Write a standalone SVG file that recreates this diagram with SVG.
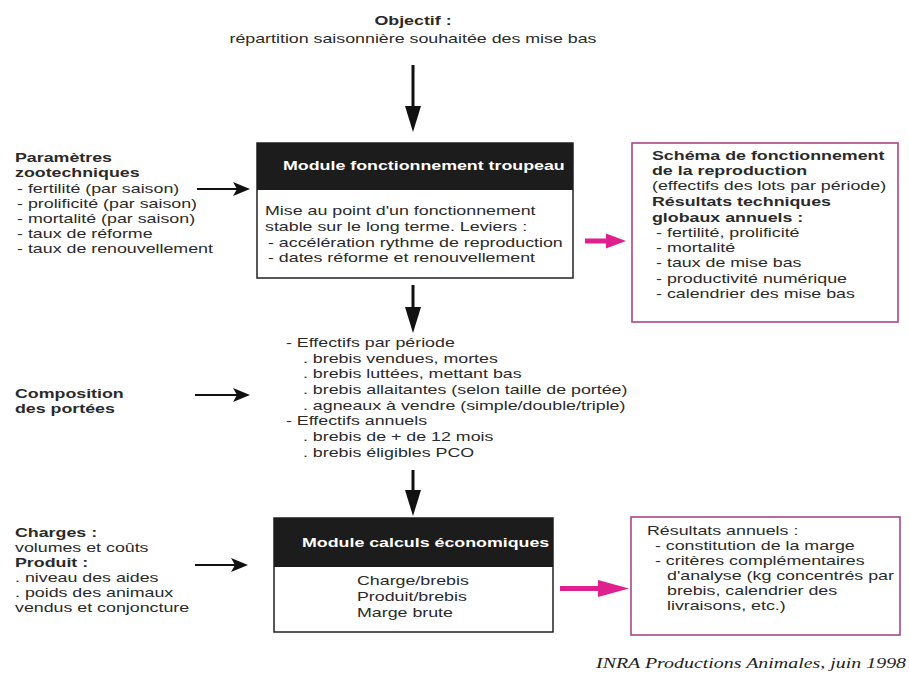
<svg xmlns="http://www.w3.org/2000/svg" width="909" height="675" viewBox="0 0 909 675">
<style>
.t{font-family:"Liberation Sans",Arial,sans-serif;font-size:13px;fill:#2a2a2a}
.b{font-weight:bold}
.w{fill:#ffffff;font-weight:bold}
.f{font-family:"Liberation Serif","Times New Roman",serif;font-size:15px;font-style:italic;fill:#222}
.box{fill:#fff;stroke:#222;stroke-width:1.5}
.hdr{fill:#1c1c1c}
.pbox{fill:#fff;stroke:#a8478a;stroke-width:1.6}
.sh{stroke:#111;stroke-width:3}
.th{stroke:#111;stroke-width:2}
.ah{fill:#111}
.pk{fill:#e0208f}
</style>
<rect width="909" height="675" fill="#fff"/>

<g id="objectif">
<text class="t" transform="translate(413,0) scale(1.37,1)" text-anchor="middle"><tspan class="b" x="0" y="25">Objectif :</tspan><tspan x="0" y="43">répartition saisonnière souhaitée des mise bas</tspan></text>
</g>

<g id="parametres">
<text class="t" transform="translate(15,0) scale(1.37,1)">
<tspan class="b" x="0" y="162">Paramètres</tspan>
<tspan class="b" x="0" y="177">zootechniques</tspan>
<tspan x="1.5" y="193">- fertilité (par saison)</tspan>
<tspan x="1.5" y="208">- prolificité (par saison)</tspan>
<tspan x="1.5" y="223">- mortalité (par saison)</tspan>
<tspan x="1.5" y="238">- taux de réforme</tspan>
<tspan x="1.5" y="253">- taux de renouvellement</tspan>
</text>
</g>

<g id="module-troupeau">
<rect class="box" x="257" y="143" width="316" height="135"/>
<rect class="hdr" x="257" y="143" width="316" height="47"/>
<text class="t w" transform="translate(283,0) scale(1.37,1)"><tspan x="0" y="170">Module fonctionnement troupeau</tspan></text>
<text class="t" transform="translate(265,0) scale(1.37,1)">
<tspan x="0" y="215">Mise au point d'un fonctionnement</tspan>
<tspan x="0" y="231">stable sur le long terme. Leviers :</tspan>
<tspan x="2.2" y="247">- accélération rythme de reproduction</tspan>
<tspan x="2.2" y="262">- dates réforme et renouvellement</tspan>
</text>
</g>

<g id="resultats-techniques">
<rect class="pbox" x="632" y="143" width="266" height="179"/>
<text class="t" transform="translate(652,0) scale(1.37,1)">
<tspan class="b" x="0" y="160">Schéma de fonctionnement</tspan>
<tspan class="b" x="0" y="175">de la reproduction</tspan>
<tspan x="0" y="190">(effectifs des lots par période)</tspan>
<tspan class="b" x="0" y="206">Résultats techniques</tspan>
<tspan class="b" x="0" y="222">globaux annuels :</tspan>
<tspan x="3" y="237">- fertilité, prolificité</tspan>
<tspan x="3" y="252">- mortalité</tspan>
<tspan x="3" y="267">- taux de mise bas</tspan>
<tspan x="3" y="283">- productivité numérique</tspan>
<tspan x="3" y="298">- calendrier des mise bas</tspan>
</text>
</g>

<g id="composition">
<text class="t b" transform="translate(15,0) scale(1.37,1)"><tspan x="0" y="398">Composition</tspan><tspan x="0" y="413">des portées</tspan></text>
</g>

<g id="effectifs">
<text class="t" transform="translate(286,0) scale(1.37,1)">
<tspan x="0" y="347">- Effectifs par période</tspan>
<tspan x="12.4" y="363">. brebis vendues, mortes</tspan>
<tspan x="12.4" y="378">. brebis luttées, mettant bas</tspan>
<tspan x="12.4" y="394">. brebis allaitantes (selon taille de portée)</tspan>
<tspan x="12.4" y="410">. agneaux à vendre (simple/double/triple)</tspan>
<tspan x="0" y="425">- Effectifs annuels</tspan>
<tspan x="12.4" y="441">. brebis de  + de 12 mois</tspan>
<tspan x="12.4" y="457">. brebis éligibles  PCO</tspan>
</text>
</g>

<g id="charges">
<text class="t" transform="translate(15,0) scale(1.37,1)">
<tspan class="b" x="0" y="537">Charges :</tspan>
<tspan x="0" y="552">volumes et coûts</tspan>
<tspan class="b" x="0" y="567">Produit :</tspan>
<tspan x="0" y="582">. niveau des aides</tspan>
<tspan x="0" y="597">. poids des animaux</tspan>
<tspan x="0" y="612">vendus et conjoncture</tspan>
</text>
</g>

<g id="module-economique">
<rect class="box" x="274" y="518" width="279" height="114"/>
<rect class="hdr" x="274" y="518" width="279" height="49"/>
<text class="t w" transform="translate(302,0) scale(1.37,1)"><tspan x="0" y="547">Module calculs économiques</tspan></text>
<text class="t" transform="translate(357,0) scale(1.37,1)">
<tspan x="0" y="585">Charge/brebis</tspan>
<tspan x="0" y="601">Produit/brebis</tspan>
<tspan x="0" y="617">Marge brute</tspan>
</text>
</g>

<g id="resultats-annuels">
<rect class="pbox" x="631" y="517" width="269" height="118"/>
<text class="t" transform="translate(647,0) scale(1.37,1)">
<tspan x="0" y="535">Résultats  annuels :</tspan>
<tspan x="5.8" y="550">- constitution de la marge</tspan>
<tspan x="5.8" y="565">- critères complémentaires</tspan>
<tspan x="14.6" y="580">d'analyse (kg concentrés par</tspan>
<tspan x="14.6" y="595">brebis, calendrier des</tspan>
<tspan x="14.6" y="610">livraisons, etc.)</tspan>
</text>
</g>

<g id="source">
<text class="f" transform="translate(596,0) scale(1.33,1)"><tspan x="0" y="668">INRA Productions Animales, juin 1998</tspan></text>
</g>

<g id="connectors">
<line class="sh" x1="413" y1="65" x2="413" y2="110"/>
<polygon class="ah" points="405,106 421,106 413,132"/>
<line class="sh" x1="413" y1="285" x2="413" y2="310"/>
<polygon class="ah" points="405,307 421,307 413,333"/>
<line class="sh" x1="413" y1="470" x2="413" y2="493"/>
<polygon class="ah" points="405,490 421,490 413,516"/>
<line class="th" x1="197" y1="189" x2="240" y2="189"/>
<polygon class="ah" points="250,189 233,182 237,189 233,196"/>
<line class="th" x1="195" y1="395" x2="240" y2="395"/>
<polygon class="ah" points="250,395 233,388 237,395 233,402"/>
<line class="th" x1="195" y1="565" x2="238" y2="565"/>
<polygon class="ah" points="248,565 231,558 235,565 231,572"/>
<rect class="pk" x="585" y="238.5" width="24" height="5"/>
<polygon class="pk" points="606,233.5 626,241 606,248.5"/>
<rect class="pk" x="560" y="586" width="40" height="5"/>
<polygon class="pk" points="598,580 629,588.5 598,597"/>
</g>
</svg>
